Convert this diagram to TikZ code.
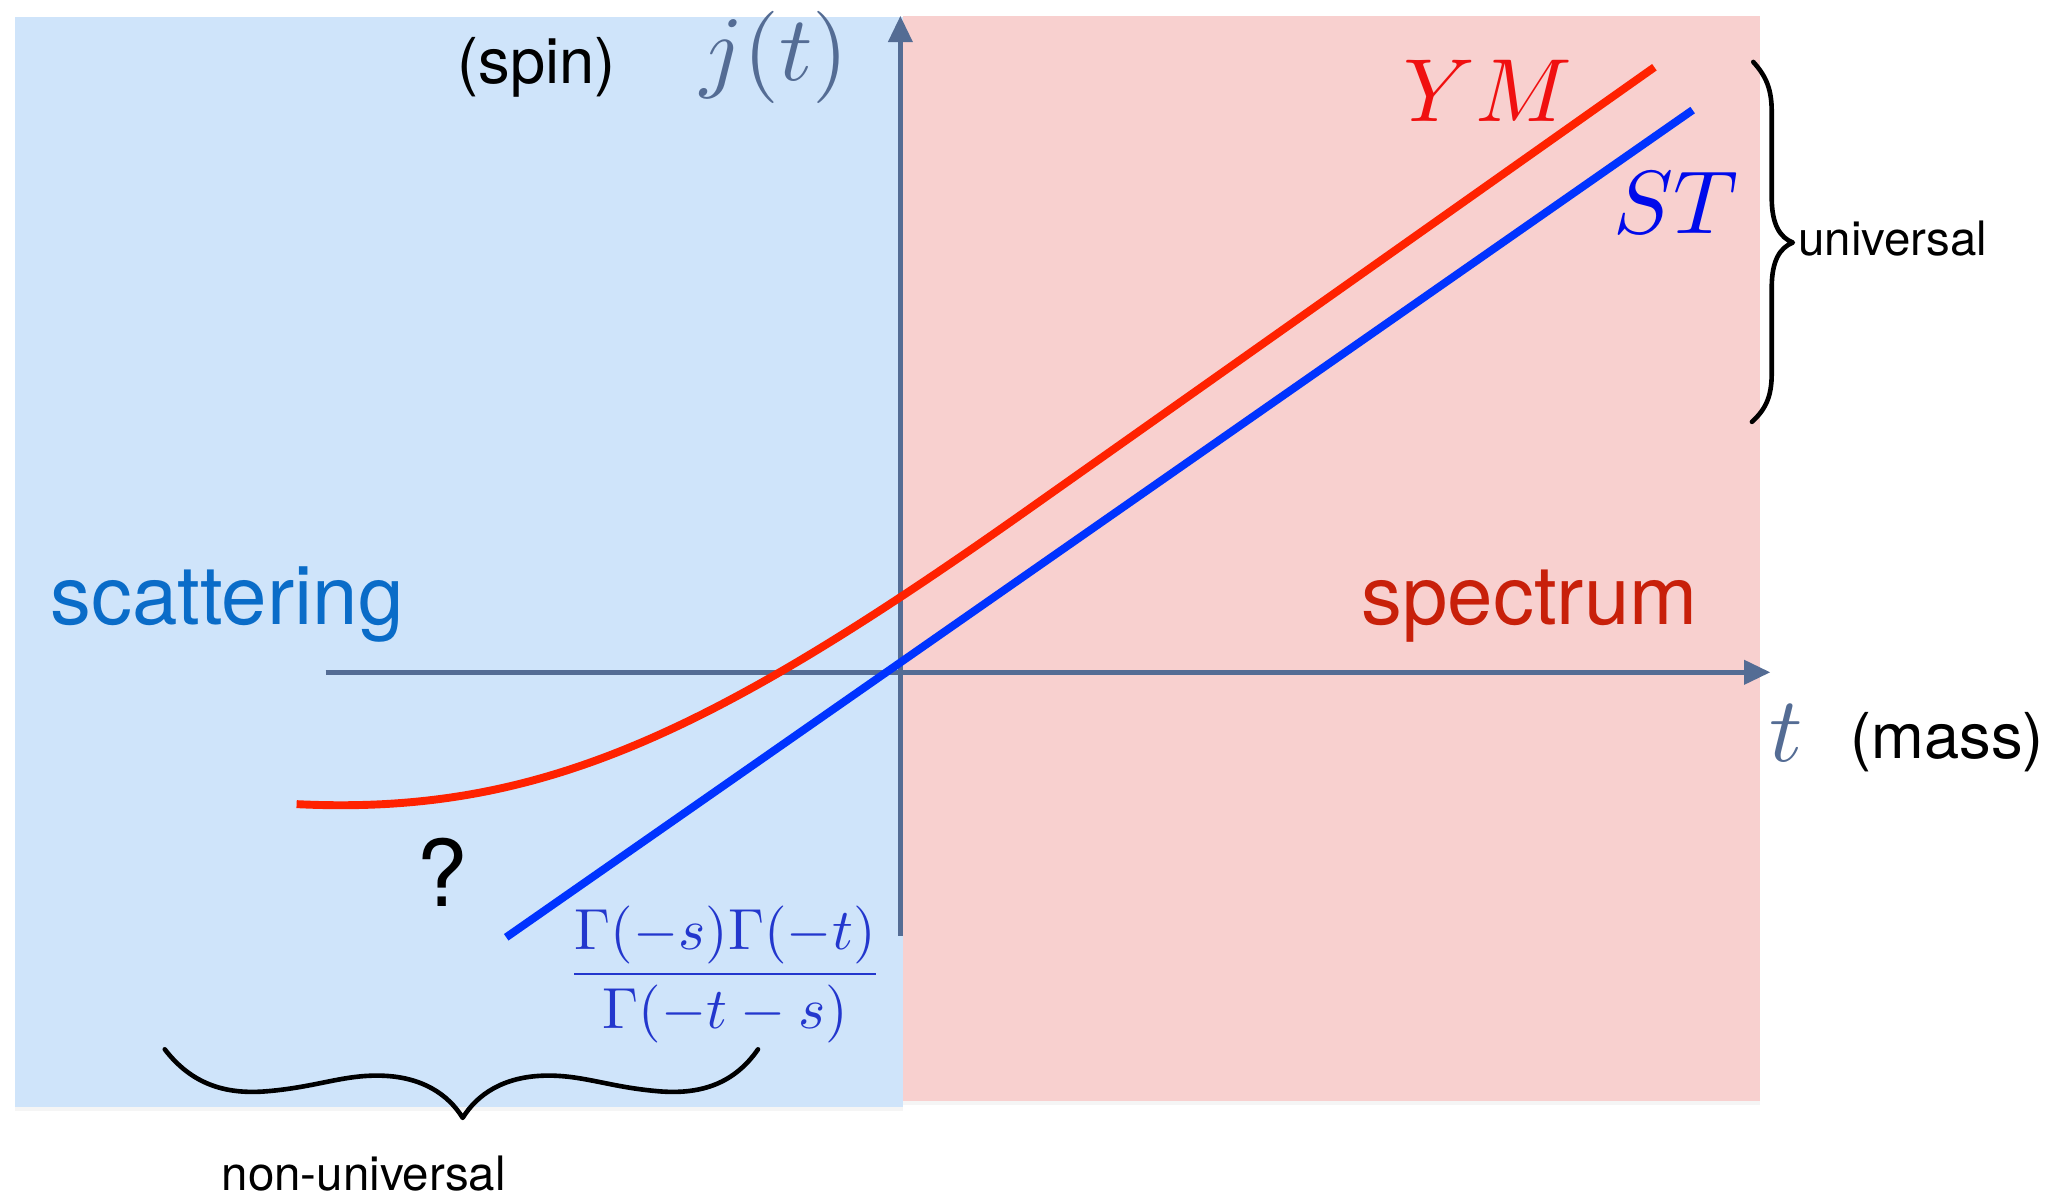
\documentclass[tikz,border=0pt]{standalone}
\usepackage[no-math]{fontspec}
\setmainfont{TeX Gyre Heros}
\usetikzlibrary{arrows.meta,shadows}
\definecolor{bgblue}{RGB}{207,228,250}
\definecolor{bgpink}{RGB}{248,208,207}
\definecolor{axiscol}{RGB}{84,108,148}
\definecolor{ymred}{RGB}{255,34,0}
\definecolor{ymtext}{RGB}{240,16,16}
\definecolor{stblue}{RGB}{0,51,255}
\definecolor{sttext}{RGB}{0,10,235}
\definecolor{scatcol}{RGB}{10,108,200}
\definecolor{speccol}{RGB}{200,32,10}
\definecolor{fraccol}{RGB}{35,55,205}
\begin{document}
\begin{tikzpicture}[x=1pt,y=-1pt,
  panel/.style={draw=none,drop shadow={shadow xshift=0pt,shadow yshift=-3pt,opacity=0.08}},
  axis/.style={draw=axiscol,line width=3.8pt},
  arrowhead/.style={-{Triangle[length=20pt,width=18pt]}},
  curve/.style={line width=6pt},
  bracestyle/.style={draw=black,line width=3.5pt,line cap=round,line join=round},
  lbl/.style={inner sep=0pt,anchor=base},
  bigtext/.style={lbl,font=\fontsize{62}{70}\selectfont},
  midtext/.style={lbl,font=\fontsize{48}{56}\selectfont},
  smalltext/.style={lbl,font=\fontsize{36}{42}\selectfont},
  mathlbl/.style={lbl,font=\fontsize{10}{12}\selectfont,scale=#1},
]
\useasboundingbox (0,0) rectangle (1568,908);

% background panels
\fill[bgblue,panel] (11,13) rectangle (685,840);
\fill[bgpink,panel] (685,12) rectangle (1335,835);

% axes
\coordinate (yaxbot) at (683,710);
\coordinate (yaxtop) at (683,12);
\coordinate (xaxleft) at (247,510);
\coordinate (xaxright) at (1343,510);
\draw[axis,arrowhead] (yaxbot) -- (yaxtop);
\draw[axis,arrowhead] (xaxleft) -- (xaxright);

% curves
\coordinate (ym0) at (225,610);
\coordinate (ym1) at (780,386.5);
\coordinate (ym2) at (1255,51);
\draw[curve,draw=ymred] (ym0) .. controls (410,619) and (540,556) .. (ym1) -- (ym2);
\coordinate (st0) at (384,711);
\coordinate (st1) at (1284,83.5);
\draw[curve,draw=stblue] (st0) -- (st1);

% braces
\draw[bracestyle] (1330,47) .. controls (1340,58) and (1344,68) .. (1344,85)
  -- (1344,150) .. controls (1344,170) and (1350,180) .. (1360,184)
  .. controls (1350,188) and (1344,198) .. (1344,218)
  -- (1344,283) .. controls (1344,300) and (1340,310) .. (1329,320);
\draw[bracestyle] (125,796) .. controls (145,822) and (170,830) .. (200,828)
  .. controls (240,825) and (260,815) .. (290,816)
  .. controls (320,817) and (340,830) .. (351,848)
  .. controls (362,830) and (382,817) .. (412,816)
  .. controls (442,815) and (462,825) .. (502,828)
  .. controls (532,830) and (557,822) .. (575,796);

% labels
\node[midtext] (spin) at (407,63) {(spin)};
\node[mathlbl=7,text=axiscol] (jt) at (587.5,61) {$j(t)$};
\node[mathlbl=7,text=axiscol] (tlab) at (1355,578) {$t$};
\node[midtext] (mass) at (1477,575) {(mass)};
\node[bigtext,text=scatcol,anchor=base west] (scat) at (38,474) {scattering};
\node[bigtext,text=speccol,anchor=base east] (spec) at (1288,474) {spectrum};
\node[mathlbl=6.8,text=ymtext] (ym) at (1129,92.3) {$YM$};
\node[mathlbl=6.8,text=sttext] (st) at (1271,177) {$ST$};
\node[smalltext,anchor=base west] (univ) at (1364,193.5) {universal};
\node[smalltext] (nonuniv) at (276,903) {non-universal};
\node[lbl,font=\fontsize{70}{80}\selectfont] (q) at (335.5,688) {?};
\node[mathlbl=4.4,text=fraccol] (frac) at (550,750)
  {$\displaystyle\frac{\Gamma(-s)\Gamma(-t)}{\Gamma(-t-s)}$};
\end{tikzpicture}
\end{document}
